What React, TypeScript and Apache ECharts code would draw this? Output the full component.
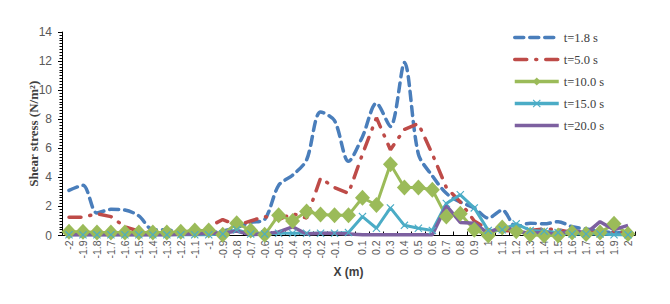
import React, { useEffect, useRef } from "react";
import * as echarts from "echarts";

const xLabels = [
  "-2", "-1.9", "-1.8", "-1.7", "-1.6", "-1.5", "-1.4", "-1.3", "-1.2", "-1.1",
  "-1", "-0.9", "-0.8", "-0.7", "-0.6", "-0.5", "-0.4", "-0.3", "-0.2", "-0.1",
  "0", "0.1", "0.2", "0.3", "0.4", "0.5", "0.6", "0.7", "0.8", "0.9",
  "1", "1.1", "1.2", "1.3", "1.4", "1.5", "1.6", "1.7", "1.8", "1.9", "2",
];

const t18 = [
  3.1, 3.45, 1.55, 1.8, 1.75, 1.35, 0.4, 0.4, 0.2, 0.2,
  0.2, 0.3, 0.55, 0.9, 1.1, 3.45, 4.15, 5.2, 8.5, 7.9,
  5.1, 6.8, 9.1, 7.5, 11.9, 5.6, 4.1, 2.9, 2.3, 1.9,
  1.2, 1.75, 0.6, 0.85, 0.8, 0.95, 0.6, 0.45, 0.3, 0.2, 0.2,
];

const t50 = [
  1.25, 1.25, 1.5, 1.3, 0.6, 0.3, 0.15, 0.1, 0.1, 0.2,
  0.6, 1.1, 0.7, 1.0, 1.3, 1.1, 1.5, 1.2, 3.95, 3.3,
  2.9, 5.6, 8.1, 5.9, 7.3, 7.7, 5.6, 3.3, 2.3, 1.0,
  0.4, 0.35, 0.3, 0.35, 0.45, 0.4, 0.2, 0.2, 0.2, 0.2, 0.2,
];

const t100 = [
  0.25, 0.25, 0.2, 0.2, 0.2, 0.2, 0.2, 0.2, 0.25, 0.35,
  0.35, 0.05, 0.85, 0.35, 0.05, 1.4, 1.0, 1.65, 1.45, 1.4,
  1.4, 2.6, 2.1, 4.9, 3.3, 3.3, 3.15, 1.3, 1.5, 0.4,
  0.0, 0.55, 0.3, 0.05, 0.0, 0.0, 0.2, 0.1, 0.2, 0.8, 0.1,
];

const t150 = [
  0.05, 0.05, 0.05, 0.05, 0.05, 0.05, 0.05, 0.05, 0.05, 0.05,
  0.05, 0.1, 0.4, 0.1, 0.1, 0.15, 0.15, 0.15, 0.15, 0.15,
  0.2, 1.3, 0.5, 1.9, 0.7, 0.5, 0.35, 2.2, 2.8, 1.9,
  0.35, 0.4, 0.8, 0.35, 0.3, 0.2, 0.1, 0.1, 0.1, 0.05, 0.05,
];

const t200 = [
  0.05, 0.05, 0.05, 0.05, 0.05, 0.05, 0.05, 0.05, 0.08, 0.1,
  0.15, 0.15, 0.3, 0.05, 0.1, 0.25, 0.6, 0.1, 0.15, 0.15,
  0.1, 0.05, 0.05, 0.05, 0.05, 0.05, 0.05, 2.05, 0.9, 0.85,
  0.15, 0.65, 0.3, 0.15, 0.2, 0.05, 0.4, 0.15, 0.95, 0.4, 0.7,
];

const seriesNames = ["t=1.8 s", "t=5.0 s", "t=10.0 s", "t=15.0 s", "t=20.0 s"];

const crossPath =
  "path://M0,1 L1,0 L5,4 L9,0 L10,1 L6,5 L10,9 L9,10 L5,6 L1,10 L0,9 L4,5 Z";

export default function App() {
  const ref = useRef<HTMLDivElement>(null);

  useEffect(() => {
    document.body.style.margin = "0";
    if (!ref.current) return;
    const chart = echarts.init(ref.current, undefined, { renderer: "svg" });
    const hidden = { opacity: 0 };
    chart.setOption({
      animation: false,
      backgroundColor: "#ffffff",
      grid: { left: 62, right: 35, top: 32, bottom: 68.5, containLabel: false },
      legend: {
        orient: "vertical",
        left: 508,
        top: 26,
        itemWidth: 44,
        itemHeight: 10,
        itemGap: 9,
        textStyle: { fontFamily: "Liberation Serif", fontSize: 12.5, color: "#404040" },
        data: [
          { name: seriesNames[0], itemStyle: hidden, lineStyle: { width: 3.5 } },
          { name: seriesNames[1], itemStyle: hidden, lineStyle: { width: 3.5 } },
          { name: seriesNames[2], lineStyle: { width: 3.5 } },
          { name: seriesNames[3], lineStyle: { width: 3.5 } },
          { name: seriesNames[4], itemStyle: hidden, lineStyle: { width: 3.5 } },
        ],
      },
      xAxis: {
        type: "category",
        data: xLabels,
        boundaryGap: true,
        name: "X (m)",
        nameLocation: "middle",
        nameGap: 29,
        nameTextStyle: {
          fontFamily: "Liberation Sans",
          fontWeight: "bold",
          fontSize: 12,
          color: "#404040",
        },
        axisLine: { lineStyle: { color: "#000000", width: 1 } },
        axisTick: { show: true, inside: true, length: 4, lineStyle: { color: "#000000" } },
        axisLabel: {
          rotate: 90,
          interval: 0,
          fontSize: 10.5,
          color: "#595959",
          fontFamily: "Liberation Sans",
          margin: 5,
        },
        splitLine: { show: false },
      },
      yAxis: {
        type: "value",
        min: 0,
        max: 14,
        interval: 2,
        name: "Shear stress (N/m²)",
        nameLocation: "middle",
        nameGap: 22,
        nameMoveOverlap: false,
        nameTextStyle: {
          fontFamily: "Liberation Serif",
          fontWeight: "bold",
          fontSize: 13,
          color: "#404040",
        },
        axisLine: { show: true, lineStyle: { color: "#000000", width: 1 } },
        axisTick: { show: true, length: 4, lineStyle: { color: "#000000" } },
        minorTick: { show: true, splitNumber: 10, length: 2.5, lineStyle: { color: "#000000" } },
        axisLabel: {
          fontSize: 12,
          color: "#595959",
          fontFamily: "Liberation Sans",
          margin: 10,
        },
        splitLine: { show: false },
      },
      series: [
        {
          name: seriesNames[0],
          type: "line",
          data: t18,
          smooth: 0.3,
          showSymbol: false,
          symbol: "none",
          color: "#4A7EBB",
          lineStyle: { color: "#4A7EBB", width: 3.5, type: [9, 6], cap: "round" },
        },
        {
          name: seriesNames[1],
          type: "line",
          data: t50,
          symbol: "none",
          color: "#BE4B48",
          lineStyle: { color: "#BE4B48", width: 3.5, type: [12, 9, 1, 9], cap: "round" },
        },
        {
          name: seriesNames[2],
          type: "line",
          data: t100,
          symbol: "diamond",
          symbolSize: [15, 16],
          showAllSymbol: true,
          color: "#9BBB59",
          itemStyle: { color: "#9BBB59" },
          lineStyle: { color: "#9BBB59", width: 3 },
        },
        {
          name: seriesNames[3],
          type: "line",
          data: t150,
          symbol: crossPath,
          symbolSize: 8,
          showAllSymbol: true,
          color: "#4BACC6",
          itemStyle: { color: "#4BACC6" },
          lineStyle: { color: "#4BACC6", width: 3 },
        },
        {
          name: seriesNames[4],
          type: "line",
          data: t200,
          symbol: "none",
          color: "#7D60A0",
          lineStyle: { color: "#7D60A0", width: 3.5 },
        },
      ],
    });
    return () => chart.dispose();
  }, []);

  return <div ref={ref} style={{ width: 670, height: 304 }} />;
}
